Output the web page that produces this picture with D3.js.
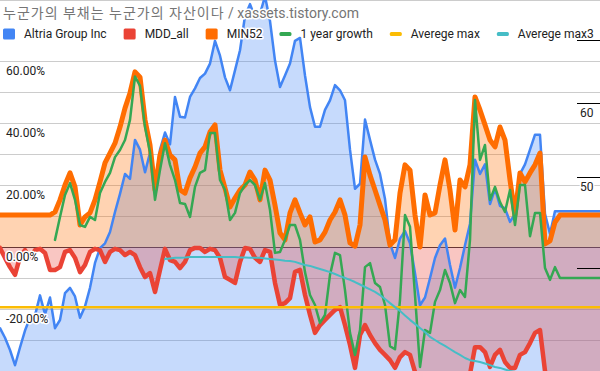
<!DOCTYPE html>
<html>
<head>
<meta charset="utf-8">
<script src="https://cdn.jsdelivr.net/npm/d3@7"></script>
<style>
  body { margin: 0; background: #fff; }
  svg { display: block; font-family: Roboto, Arial, "Noto Sans CJK KR", sans-serif; }
</style>
</head>
<body>
<svg id="chart" width="600" height="371"></svg>
<script>
// 1. Data (one sample per trading period)
const titleParts = ["누군가의 부채는 누군가의 자산이다", " / xassets.tistory.com"];
const seriesNames = ["Altria Group Inc", "MDD_all", "MIN52", "1 year growth", "Averege max", "Averege max3"];
const seriesColors = ["#4285f4", "#ea4335", "#ff6d01", "#34a853", "#fbbc04", "#46bdc6"];

// price, right (log) axis
const altria = [
  34.5, 33.7, 32.7, 31.5, 32.9, 34.3, 35.4, 35.6, 37.4, 35.7,
  37.2, 34.5, 35.2, 37.6, 38.1, 37.3, 35.4, 36.4, 38.1, 40.5,
  42.0, 42.5, 43.7, 45.9, 48.0, 50.4, 49.8, 54.8, 53.5, 50.6,
  53.1, 48.9, 53.5, 55.8, 54.2, 60.9, 58.0, 57.9, 60.9, 62.2,
  63.8, 64.5, 66.1, 69.9, 67.4, 63.9, 61.9, 65.0, 68.3, 74.3,
  76.5, 74.1, 74.7, 78.0, 73.4, 66.6, 62.4, 64.2, 66.1, 69.9,
  70.4, 64.2, 59.4, 56.6, 56.6, 59.0, 60.4, 62.7, 61.9, 60.4,
  53.5, 48.6, 49.2, 57.6, 54.8, 52.2, 50.4, 47.4, 42.5, 41.0,
  43.0, 43.8, 42.5, 39.5, 36.5, 37.2, 39.0, 41.0, 42.3, 43.0,
  40.3, 38.1, 40.0, 42.3, 44.6, 52.2, 50.4, 51.6, 46.8, 48.6,
  46.6, 46.3, 44.8, 45.7, 50.4, 51.6, 53.5, 55.5, 55.5, 45.7,
  43.5, 46.0, 46.0, 46.0, 46.0, 46.0, 46.0, 46.0, 46.0, 46.0, 46.0
];

// percent, left axis
const mddAll = [
  -0.3, -3.5, -6.5, -9.0, -3.2, -1.0, -3.5, -1.0, -0.6, -1.9,
  -7.4, -7.4, -6.5, -1.6, -1.0, -3.5, -8.1, -5.8, -1.6, -0.6,
  -1.0, -4.8, -1.6, -0.6, -1.0, -2.6, -1.6, -2.6, -6.5, -9.7,
  -8.4, -14.5, -7.4, -0.6, -4.2, -4.8, -6.8, -4.8, -1.0, -0.3,
  -0.3, -1.6, -0.6, -1.0, -3.5, -9.7, -10.6, -11.6, -4.8, -0.3,
  -0.6, -3.5, -4.8, -1.0, -1.6, -11.6, -18.7, -18.1, -16.5, -8.0,
  -7.4, -15.5, -21.9, -27.7, -25.2, -23.5, -21.9, -20.3, -19.4, -25.2,
  -31.6, -39.0, -28.4, -25.2, -28.4, -31.0, -33.2, -34.8, -36.5, -39.0,
  -35.5, -33.9, -34.8, -40.3, -44.5, -46.1, -47.0, -48.0, -48.0, -47.0,
  -46.0, -46.0, -45.0, -44.0, -41.0, -32.3, -32.3, -33.9, -38.7, -34.8,
  -33.2, -37.1, -39.0, -39.0, -34.8, -33.9, -31.0, -27.7, -26.8, -40.0,
  -49.0, -49.4, -49.4, -49.4, -49.4, -49.4, -49.4, -49.4, -49.4, -49.4, -49.4
];

const min52 = [
  10.3, 10.3, 10.3, 10.3, 10.3, 10.3, 10.3, 10.3, 10.3, 10.3,
  10.3, 11.3, 15.2, 20.0, 23.9, 19.4, 7.1, 9.7, 11.0, 15.2,
  21.0, 27.1, 30.3, 33.5, 38.7, 44.8, 49.7, 56.5, 54.8, 41.0,
  32.9, 18.4, 29.7, 34.5, 29.7, 28.1, 18.4, 17.4, 22.3, 25.8,
  30.3, 32.3, 37.1, 39.4, 24.8, 19.0, 12.9, 15.8, 18.4, 20.0,
  24.2, 21.6, 15.2, 24.8, 21.6, 13.5, 4.5, 2.3, 11.0, 15.2,
  11.0, 7.1, 9.7, 1.6, 2.3, 4.8, 8.7, 11.3, 15.2, 10.3,
  1.3, 0.3, 7.1, 29.0, 23.2, 18.4, 13.5, 8.7, 0.6, 2.3,
  17.4, 26.5, 24.8, 10.3, 0.0, 16.8, 10.3, 11.0, 20.0, 28.1,
  18.4, 5.5, 21.6, 19.4, 26.5, 48.4, 44.2, 39.4, 34.5, 32.3,
  38.7, 34.5, 21.6, 10.3, 23.9, 21.0, 23.9, 26.5, 30.3, 1.0,
  2.0, 8.0, 10.3, 10.3, 10.3, 10.3, 10.3, 10.3, 10.3, 10.3, 10.3
];

const growth1y = [
  null, null, null, null, null, null, null, null, null, null,
  null, 2.3, 9.7, 16.8, 20.6, 15.2, 7.1, 6.5, 9.7, 8.7,
  17.4, 21.0, 23.9, 29.0, 31.3, 34.5, 41.0, 55.0, 52.0, 38.7,
  30.6, 15.2, 24.8, 33.5, 26.5, 21.6, 14.2, 13.9, 9.7, 19.4,
  23.9, 24.8, 36.8, 36.8, 21.6, 18.4, 8.7, 11.0, 17.4, 20.0,
  21.6, 20.0, 15.2, 20.6, 11.9, -1.9, -1.6, 2.3, 7.1, 7.1,
  2.3, -8.1, -15.5, -18.7, -24.5, -21.9, -9.0, -1.9, -2.6, -13.9,
  -27.7, -34.8, -26.8, -6.5, -5.2, -11.6, -12.9, -18.7, -32.0, -33.0,
  -17.1, 10.3, 6.5, -15.5, -38.7, -26.8, -27.7, -17.7, -13.9, -7.4,
  -11.6, -18.1, -13.9, -16.1, 2.3, 47.4, 28.1, 32.9, 15.2, 19.4,
  14.5, 11.3, 18.4, 7.1, 20.0, 20.0, 3.5, 11.0, 11.0, -6.8,
  -10.6, -6.5, -10.0, -10.0, -10.0, -10.0, -10.0, -10.0, -10.0, -10.0, -10.0
];

const avgMaxValue = -19.4;

const avgMax3 = [
  null, null, null, null, null, null, null, null, null, null,
  null, null, null, null, null, null, null, null, null, null,
  null, null, null, null, null, null, null, null, null, null,
  null, null, null, -3.9, -3.7, -3.5, -3.5, -3.4, -3.2, -3.2,
  -3.2, -3.2, -3.2, -3.2, -3.2, -3.2, -3.2, -3.2, -3.4, -3.4,
  -3.5, -3.5, -3.5, -3.7, -3.9, -4.0, -4.2, -4.4, -4.5, -4.8,
  -5.3, -5.8, -6.1, -6.6, -7.1, -7.6, -8.1, -8.7, -9.4, -10.0,
  -10.6, -11.3, -12.1, -12.9, -13.7, -14.5, -15.5, -16.8, -18.1, -19.4,
  -20.6, -22.1, -23.5, -24.8, -26.1, -27.4, -29.0, -30.0, -31.0, -31.9,
  -32.9, -33.9, -34.8, -35.8, -36.5, -36.8, -37.1, -37.6, -38.1, -38.7,
  -39.0, -39.5, -40.0, -40.3, -40.8, -41.3, -41.6, null, null, null,
  null, null, null, null, null, null, null, null, null, null, null
];

const leftTicks = [-20, 0, 20, 40, 60];
const gridValues = [-40, -30, -20, -10, 10, 20, 30, 40, 50, 60, 80];
const rightTicks = [40, 50, 60, 70];
const rightLabels = [50, 60];

// 2. Dimensions and scales
const width = 600;
const height = 371;
const svg = d3.select("#chart");
const idx = d3.range(altria.length);

const xScale = d3.scaleLinear().domain([0, idx.length - 1]).range([0, width]);
const yLeft = d3.scaleLinear().domain([-40, 80]).range([height, -1]);
const yRight = d3.scaleLog().domain([40, 60]).range([268, 103]);

const fmt = d3.formatLocale({ decimal: ".", thousands: ",", grouping: [3], currency: ["$", ""], minus: "-" }).format(".2f");
const gridY = (d) => Math.max(0, Math.round(yLeft(d))) + 0.5;

// 3. Gridlines and baseline
svg.append("g")
  .selectAll("line")
  .data(gridValues)
  .join("line")
  .attr("x1", 0)
  .attr("x2", width)
  .attr("y1", gridY)
  .attr("y2", gridY)
  .attr("stroke", "#cccccc");

svg.append("line")
  .attr("x1", 0)
  .attr("x2", width)
  .attr("y1", gridY(0))
  .attr("y2", gridY(0))
  .attr("stroke", "#333333");

// 4. Areas
const blueArea = d3.area()
  .x((d, i) => xScale(i))
  .y0(height + 5)
  .y1((d) => yRight(d));

const zeroArea = d3.area()
  .x((d, i) => xScale(i))
  .y0(yLeft(0))
  .y1((d) => yLeft(d));

svg.append("path").datum(altria).attr("d", blueArea)
  .attr("fill", seriesColors[0]).attr("fill-opacity", 0.3);
svg.append("path").datum(mddAll).attr("d", zeroArea)
  .attr("fill", seriesColors[1]).attr("fill-opacity", 0.3);
svg.append("path").datum(min52).attr("d", zeroArea)
  .attr("fill", seriesColors[2]).attr("fill-opacity", 0.3);

// 5. Lines
const rightLine = d3.line()
  .x((d, i) => xScale(i))
  .y((d) => yRight(d));

const leftLine = d3.line()
  .defined((d) => d != null)
  .x((d, i) => xScale(i))
  .y((d) => yLeft(d));

const drawLine = (data, gen, color, w) =>
  svg.append("path")
    .datum(data)
    .attr("d", gen)
    .attr("fill", "none")
    .attr("stroke", color)
    .attr("stroke-width", w)
    .attr("stroke-linejoin", "round")
    .attr("stroke-linecap", "round");

drawLine(altria, rightLine, seriesColors[0], 2.5);
drawLine(mddAll, leftLine, seriesColors[1], 4.5);
drawLine(min52, leftLine, seriesColors[2], 5);
drawLine(growth1y, leftLine, seriesColors[3], 2.5);
drawLine(idx.map(() => avgMaxValue), leftLine, seriesColors[4], 2.5);
drawLine(avgMax3, leftLine, seriesColors[5], 2);

// 6. Axis labels
const halo = (sel) => sel
  .attr("stroke", "#fff")
  .attr("stroke-width", 3)
  .attr("stroke-linejoin", "round")
  .attr("paint-order", "stroke");

svg.append("g")
  .selectAll("text")
  .data(leftTicks)
  .join("text")
  .attr("x", 6)
  .attr("y", (d) => yLeft(d) + 14)
  .attr("font-size", 12)
  .attr("fill", "#222")
  .text((d) => fmt(d) + "%")
  .call(halo);

svg.append("g")
  .selectAll("line")
  .data(rightTicks)
  .join("line")
  .attr("x1", 577)
  .attr("x2", width)
  .attr("y1", (d) => Math.round(yRight(d)) + 0.5)
  .attr("y2", (d) => Math.round(yRight(d)) + 0.5)
  .attr("stroke", "#000");

svg.append("g")
  .selectAll("text")
  .data(rightLabels)
  .join("text")
  .attr("x", 580)
  .attr("y", (d) => yRight(d) + 14)
  .attr("font-size", 12)
  .attr("fill", "#222")
  .text((d) => d)
  .call(halo);

// 7. Title and legend
const titleText = svg.append("text")
  .attr("x", 3)
  .attr("y", 18)
  .attr("font-size", 14)
  .attr("fill", "#757575")
  .call(halo);
titleText.append("tspan").attr("letter-spacing", 1).text(titleParts[0]);
titleText.append("tspan").text(titleParts[1]);

const legend = svg.append("g").attr("class", "legend");
let lx = 3;
seriesNames.forEach((name, i) => {
  const isArea = i < 3;
  legend.append("rect")
    .attr("x", lx)
    .attr("y", isArea ? 28.5 : 32)
    .attr("width", 12)
    .attr("height", isArea ? 11 : 4)
    .attr("rx", 1.5)
    .attr("fill", seriesColors[i]);
  const t = legend.append("text")
    .attr("x", lx + 21)
    .attr("y", 38)
    .attr("font-size", 12)
    .attr("fill", "#222")
    .text(name)
    .call(halo);
  lx += 21 + t.node().getComputedTextLength() + 17;
});
</script>
</body>
</html>
